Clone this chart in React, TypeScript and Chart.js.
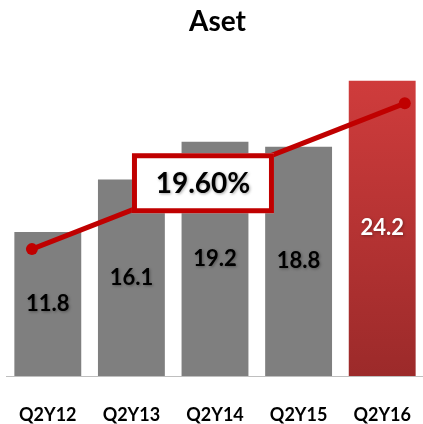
import React, { useEffect, useRef } from "react";
import { Chart, registerables } from "chart.js";

Chart.register(...registerables);

const categories = ["Q2Y12", "Q2Y13", "Q2Y14", "Q2Y15", "Q2Y16"];
const assetValues = [11.8, 16.1, 19.2, 18.8, 24.2];
const trendX = [-0.19, 4.27];
const trendY = [10.4, 22.35];
const growthLabel = "19.60%";
const titleText = "Aset";

const FONT = "Lato, 'Open Sans', sans-serif";
const GRAY = "#7F7F7F";
const RED = "#C00000";

export default function App() {
  const ref = useRef<HTMLCanvasElement | null>(null);

  useEffect(() => {
    document.documentElement.style.overflow = "hidden";
    document.body.style.overflow = "hidden";
    const canvas = ref.current;
    if (!canvas) return;

    const barColor = (c: any) => {
      if (c.dataIndex !== assetValues.length - 1) return GRAY;
      const chart = c.chart;
      const ys = chart.scales && chart.scales.y;
      if (!chart.chartArea || !ys) return "#B83434";
      const top = ys.getPixelForValue(assetValues[c.dataIndex]);
      const bot = ys.getPixelForValue(0);
      const g = chart.ctx.createLinearGradient(0, top, 0, bot);
      g.addColorStop(0, "#CF3C3C");
      g.addColorStop(1, "#9C2A2A");
      return g;
    };

    const valueLabels = {
      id: "valueLabels",
      afterDatasetsDraw(chart: any) {
        const ctx = chart.ctx;
        const meta = chart.getDatasetMeta(0);
        ctx.save();
        ctx.font = `bold 22px ${FONT}`;
        ctx.textAlign = "center";
        ctx.textBaseline = "middle";
        meta.data.forEach((el: any, i: number) => {
          const y = (el.y + el.base) / 2;
          ctx.shadowColor = "rgba(0,0,0,0.35)";
          ctx.shadowBlur = 3;
          ctx.shadowOffsetX = 1;
          ctx.shadowOffsetY = 1;
          ctx.fillStyle = i === assetValues.length - 1 ? "#FFFFFF" : "#000000";
          ctx.fillText(String(assetValues[i]), el.x, y);
        });
        ctx.restore();
      },
    };

    const growthBox = {
      id: "growthBox",
      afterDraw(chart: any) {
        const ctx = chart.ctx;
        const cx = chart.scales.x2.getPixelForValue(1.856);
        const cy = chart.scales.y.getPixelForValue(15.8);
        const w = 142;
        const h = 60;
        const x0 = cx - w / 2;
        const y0 = cy - h / 2;
        ctx.save();
        ctx.fillStyle = "#FFFFFF";
        ctx.fillRect(x0, y0, w, h);
        ctx.strokeStyle = RED;
        ctx.lineWidth = 5;
        ctx.strokeRect(x0 + 2.5, y0 + 2.5, w - 5, h - 5);
        ctx.font = `bold 28px ${FONT}`;
        ctx.textAlign = "center";
        ctx.textBaseline = "middle";
        ctx.shadowColor = "rgba(0,0,0,0.35)";
        ctx.shadowBlur = 3;
        ctx.shadowOffsetX = 1;
        ctx.shadowOffsetY = 1;
        ctx.fillStyle = "#000000";
        ctx.fillText(growthLabel, cx, cy + 1);
        ctx.restore();
      },
    };

    const chart = new Chart(canvas, {
      type: "bar",
      data: {
        labels: categories,
        datasets: [
          {
            type: "bar",
            label: "Aset",
            data: assetValues,
            backgroundColor: barColor as any,
            barPercentage: 0.8,
            categoryPercentage: 1,
            grouped: false,
            order: 2,
            xAxisID: "x",
            yAxisID: "y",
          },
          {
            type: "line",
            label: "Growth",
            data: trendX.map((x, i) => ({ x, y: trendY[i] })),
            borderColor: RED,
            backgroundColor: RED,
            borderWidth: 5,
            pointRadius: 6,
            pointBackgroundColor: RED,
            pointBorderWidth: 0,
            fill: false,
            tension: 0,
            order: 1,
            xAxisID: "x2",
            yAxisID: "y",
          },
        ],
      },
      options: {
        responsive: false,
        animation: false,
        layout: { padding: { left: 6, right: 1, top: 0, bottom: -1.6 } },
        plugins: {
          legend: { display: false },
          tooltip: { enabled: false },
          title: {
            display: true,
            text: titleText,
            color: "#000000",
            font: { family: FONT, size: 28, weight: "bold" },
            padding: { top: 5.5, bottom: 19.7 },
          },
        },
        scales: {
          x: {
            type: "category",
            offset: true,
            grid: {
              display: true,
              drawOnChartArea: false,
              drawTicks: true,
              tickLength: 28,
              color: "rgba(0,0,0,0)",
            },
            border: { display: true, color: "#BFBFBF", width: 1 },
            ticks: {
              color: "#000000",
              font: { family: FONT, size: 18, weight: "bold" },
              padding: 0,
            },
          },
          x2: {
            type: "linear",
            display: false,
            offset: false,
            min: -0.5,
            max: 4.5,
          },
          y: {
            display: false,
            min: 0,
            max: 26,
          },
        },
      },
      plugins: [valueLabels, growthBox],
    } as any);

    return () => chart.destroy();
  }, []);

  return (
    <div style={{ position: "fixed", left: 0, top: 0, width: 430, height: 424, background: "#FFFFFF" }}>
      <canvas ref={ref} width={430} height={424} style={{ display: "block", width: 430, height: 424 }} />
    </div>
  );
}
